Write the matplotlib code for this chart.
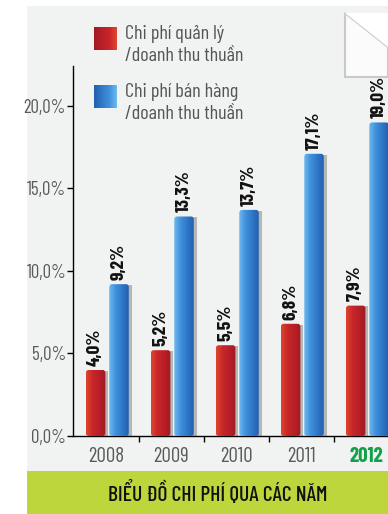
import numpy as np
import matplotlib
matplotlib.use("Agg")
import matplotlib.pyplot as plt
from matplotlib import font_manager
from matplotlib.font_manager import FontProperties
from matplotlib.patches import Rectangle, FancyBboxPatch, Polygon
from matplotlib.colors import LinearSegmentedColormap

plt.rcParams['font.family'] = ['Barlow Condensed', 'DejaVu Sans']

years = ['2008', '2009', '2010', '2011', '2012']
ql_values = [4.0, 5.2, 5.5, 6.8, 7.9]      # chi phí quản lý / doanh thu thuần
bh_values = [9.2, 13.3, 13.7, 17.1, 19.0]  # chi phí bán hàng / doanh thu thuần
legend_labels = ['Chi phí quản lý\n/doanh thu thuần', 'Chi phí bán hàng\n/doanh thu thuần']
y_ticks = [0, 5, 10, 15, 20]
title = 'BIỂU ĐỒ CHI PHÍ QUA CÁC NĂM'


def font_file(name, fallback):
    for f in font_manager.fontManager.ttflist:
        if f.fname.endswith(name):
            return FontProperties(fname=f.fname)
    return FontProperties(family=fallback, weight='bold')


reg_fp = font_file('BarlowCondensed-Regular.ttf', 'DejaVu Sans')
bold_fp = font_file('BarlowCondensed-Bold.ttf', 'DejaVu Sans')
title_fp = font_file('BarlowCondensed-Medium.ttf', 'DejaVu Sans')

red_cmap = LinearSegmentedColormap.from_list('r', ['#e0452f', '#c82629', '#b81f27', '#a01a22'])
blue_cmap = LinearSegmentedColormap.from_list('b', ['#6cbaf0', '#3f90dc', '#2f78c8', '#2360ae'])

W, H = 388, 514
fig = plt.figure(figsize=(W / 100, H / 100), dpi=100)
fig.patch.set_facecolor('white')

# nền xám và dải xanh dưới cùng
fig.patches.append(Rectangle((27 / W, 43 / H), 1 - 27 / W, (471 - 6) / H,
                             transform=fig.transFigure, facecolor='#f1f2f2', edgecolor='none', zorder=-3))
fig.patches.append(Rectangle((27 / W, 0), 1 - 27 / W, 43 / H,
                             transform=fig.transFigure, facecolor='#bdd63b', edgecolor='none', zorder=-3))
# góc giấy gấp
fig.patches.append(Polygon([(345 / W, 1 - 13 / H), (1, 1 - 47 / H), (1, 1 - 77 / H), (345 / W, 1 - 77 / H)],
                           closed=True, transform=fig.transFigure, facecolor='#fbfbfb',
                           edgecolor='#c9c9c9', linewidth=1.5, zorder=-2))
fig.patches.append(Polygon([(345 / W, 1 - 13 / H), (1, 1 - 13 / H), (1, 1 - 47 / H)],
                           closed=True, transform=fig.transFigure, facecolor='white',
                           edgecolor='none', zorder=-2))

ax = fig.add_axes([73 / W, 78 / H, 1 - 73 / W, 370 / H])
ax.set_facecolor('none')
for s in ['top', 'right']:
    ax.spines[s].set_visible(False)
ax.spines['left'].set_linewidth(1)
ax.spines['bottom'].set_linewidth(1)

width = 0.3
grad = np.linspace(0, 1, 64).reshape(1, -1)


def draw_bar(x, h, cmap):
    # bóng đổ bên phải
    ax.add_patch(Rectangle((x - width / 2 + 0.045, 0), width, h - 0.05,
                           facecolor='#8e8e8e', edgecolor='none', alpha=0.6, zorder=2))
    clip = FancyBboxPatch((x - width / 2, 0), width, h,
                          boxstyle='round,pad=0,rounding_size=0.04', mutation_aspect=4.5,
                          facecolor='none', edgecolor='none', zorder=3)
    ax.add_patch(clip)
    im = ax.imshow(grad, cmap=cmap, extent=(x - width / 2, x + width / 2, 0, h),
                   aspect='auto', zorder=3, interpolation='bicubic')
    im.set_clip_path(clip)


def fmt(v):
    return f'{v:.1f}%'.replace('.', ',')


for i, (r, b) in enumerate(zip(ql_values, bh_values)):
    xr, xb = i - 0.16, i + 0.2
    draw_bar(xr, r, red_cmap)
    draw_bar(xb, b, blue_cmap)
    ax.text(xr, r + 0.25, fmt(r), rotation=90, ha='center', va='bottom',
            fontproperties=bold_fp, fontsize=14, color='#111111', zorder=4)
    ax.text(xb, b + 0.25, fmt(b), rotation=90, ha='center', va='bottom',
            fontproperties=bold_fp, fontsize=14, color='#111111', zorder=4)

ax.set_xlim(-0.508, 4.338)
ax.set_ylim(0, 22.42)

ax.set_yticks(y_ticks)
ax.set_yticklabels([fmt(t) for t in y_ticks], fontproperties=reg_fp, fontsize=13.5, color='#5a5a5a')
ax.tick_params(axis='y', direction='out', length=4, width=1, pad=1)

ax.set_xticks(range(len(years)))
ax.set_xticklabels(years, fontproperties=reg_fp, fontsize=15, color='#5a5a5a')
ax.tick_params(axis='x', length=0, pad=8)
ax.set_xticks([i + 0.5 for i in range(len(years) - 1)], minor=True)
ax.tick_params(axis='x', which='minor', direction='out', length=4, width=1)
last = ax.get_xticklabels()[-1]
last.set_fontproperties(bold_fp)
last.set_fontsize(15)
last.set_color('#12a04a')

# chú thích
for k, (lab, cmap) in enumerate(zip(legend_labels, [red_cmap, blue_cmap])):
    y0 = 1 - (27 + 58 * k) / H
    lax = fig.add_axes([94 / W, y0 - 23 / H, 23 / W, 23 / H])
    lax.imshow(grad, cmap=cmap.reversed(), aspect='auto')
    lax.axis('off')
    fig.text(125 / W, y0 + 2 / H, lab, ha='left', va='top', fontproperties=reg_fp,
             fontsize=14.5, color='#555555', linespacing=1.3)

fig.text(218 / W, 21 / H, title, ha='center', va='center', fontproperties=title_fp,
         fontsize=15.5, color='#111111')

fig.savefig('out.png', dpi=100, facecolor=fig.get_facecolor())
